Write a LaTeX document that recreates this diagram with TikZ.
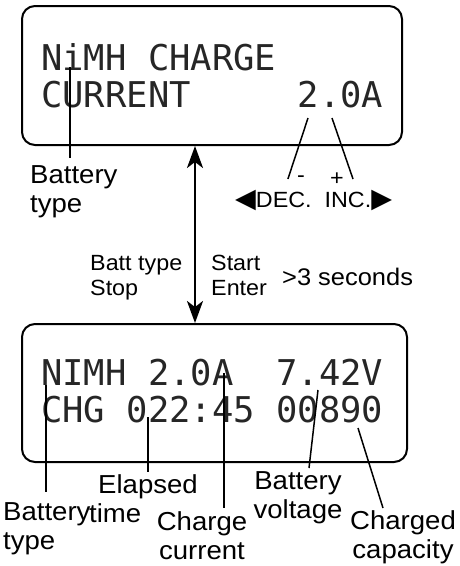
\documentclass[tikz,border=0pt]{standalone}
\usepackage{fontspec}
\setmainfont{Liberation Sans}[FakeStretch=1.06]
\newfontfamily\lcdfont{DejaVu Sans Mono}
\newfontfamily\symfont{DejaVu Sans}
\usetikzlibrary{arrows.meta}

\begin{document}
\begin{tikzpicture}[x=1pt,y=-1pt,
        screen/.style={
        draw=black, line width=2pt,
        rounded corners=13pt, inner sep=0pt},
        lcd/.style={inner sep=0pt, anchor=base west, text=black!85,
        font=\lcdfont\fontsize{35.5}{36}\selectfont},
        lbl/.style={inner sep=0pt, font=\fontsize{26}{29}\selectfont},
        small/.style={inner sep=0pt, align=left, font=\fontsize{22}{25}\selectfont},
        sign/.style={inner sep=9pt, font=\fontsize{22}{25}\selectfont},
        pointer/.style={line width=1.5pt},
        arr/.style={{Stealth[length=22pt,width=16pt,inset=6pt]}-{Stealth[length=22pt,width=16pt,inset=6pt]},
        line width=2.5pt},
        ]
        \useasboundingbox (0,0) rectangle (460,566);

        % the two screens
        \node (top) [screen, minimum width=380pt, minimum height=139pt] at (212,75.5){};
        \node (bot) [screen, minimum width=385pt, minimum height=138pt] at (214.5,393){};

        \node (t1) [lcd] at (41,70){NiMH\ CHARGE};
        \node (t2) [lcd] at (41,107){CURRENT\ \ \ \ \ 2.0A};
        \node (b1) [lcd] at (41,385){NIMH\ 2.0A\ \ 7.42V};
        \node (b2) [lcd] at (41,422){CHG\ 022:45\ 00890};

        % top screen labels
        \coordinate (ptt) at (70,67);
        \coordinate (decpt) at (308,118);
        \coordinate (incpt) at (332,118);
        \node (tt) [lbl, align=left, anchor=north west] at (30,165){Battery\\type};
        \node (minus) [sign] at (301,179){-};
        \node (plus) [sign] at (337,179){+};
        \node (decinc) [inner sep=0pt, anchor=base west, font=\fontsize{22}{25}\selectfont]
            at (235,207){{\symfont\fontsize{27}{27}\selectfont ◀}DEC.\ \ INC.{\symfont\fontsize{27}{27}\selectfont ▶}};

        \draw [pointer, shorten >=7pt] (ptt) -- (ptt |- tt.north);
        \draw [pointer] (decpt) -- (minus.west) (incpt) -- (plus.east);

        % between the screens
        \coordinate (ax) at (195,0);
        \draw [arr] (top.south -| ax) -- (bot.north -| ax);
        \node (stop) [small, anchor=north west] at (90,255){Batt type\\Stop};
        \node (start) [small, anchor=north west] at (211,255){Start\\Enter};
        \node (hold) [inner sep=0pt, anchor=base west, font=\fontsize{24}{26}\selectfont]
            at (282,285){>3 seconds};

        % bottom screen labels
        \coordinate (pbt) at (46,385);
        \coordinate (pet) at (148,417);
        \coordinate (pcc) at (224,373);
        \coordinate (pbv) at (318,390);
        \coordinate (pcap) at (358,428);
        \node (bt) [lbl, align=left, anchor=north west] at (3,502){Battery\\type};
        \node (et) [lbl, align=left, anchor=north west] at (98,474){Elapsed\\\hspace*{-9pt}time};
        \node (cc) [lbl, align=center, anchor=north] at (202,511){Charge\\current};
        \node (bv) [lbl, align=center, anchor=north] at (298,471){Battery\\voltage};
        \node (cap) [lbl, align=center, anchor=north] at (403,510){Charged\\capacity};

        \draw [pointer, shorten >=10pt] (pbt) -- (pbt |- bt.north);
        \draw [pointer, shorten >=2pt] (pet) -- (pet |- et.north);
        \draw [pointer, shorten >=3pt] (pcc) -- (pcc |- cc.north);
        \draw [pointer] (pbv) -- ([xshift=11pt,yshift=3pt]bv.north);
        \draw [pointer] (pcap) -- ([xshift=-20pt,yshift=2pt]cap.north);
    \end{tikzpicture}
\end{document}
